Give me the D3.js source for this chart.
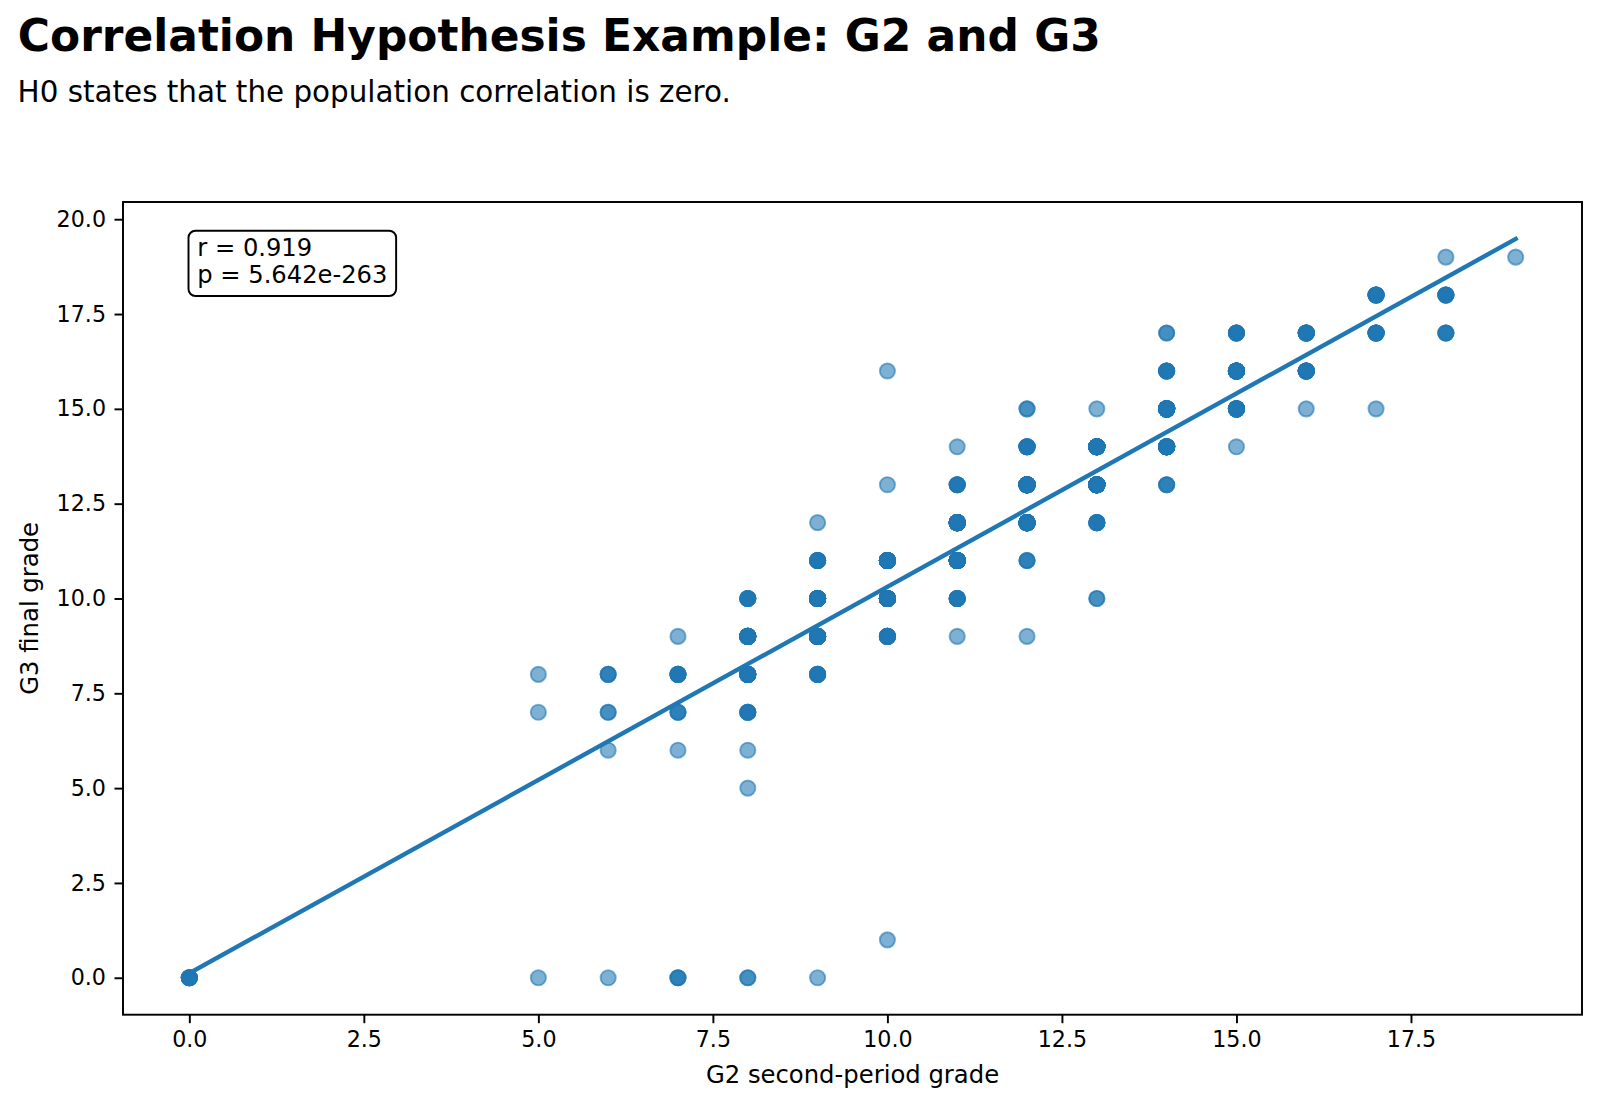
<!DOCTYPE html>
<html><head><meta charset="utf-8">
<script src="https://cdn.jsdelivr.net/npm/d3@7"></script>
<style>
body{margin:0;background:#fff}
svg{display:block}
text{font-family:"DejaVu Sans",sans-serif;fill:#000}
</style>
</head><body>
<svg id="chart" width="1600" height="1106"></svg>
<script>
// ---- data ----
const titleText = "Correlation Hypothesis Example: G2 and G3";
const subtitleText = "H0 states that the population correlation is zero.";
const xLabelText = "G2 second-period grade";
const yLabelText = "G3 final grade";
const statLines = ["r = 0.919", "p = 5.642e-263"];

// distinct (G2, G3) pairs and how many students share each pair
const g2Values = [0, 5,5,5, 6,6,6,6, 7,7,7,7,7, 8,8,8,8,8,8,8, 9,9,9,9,9,9,
  10,10,10,10,10,10, 11,11,11,11,11,11, 12,12,12,12,12,12, 13,13,13,13,13,
  14,14,14,14,14, 15,15,15,15, 16,16,16, 17,17,17, 18,18,18, 19];
const g3Values = [0, 0,7,8, 0,6,7,8, 0,6,7,8,9, 0,5,6,7,8,9,10, 0,8,9,10,11,12,
  1,9,10,11,13,16, 9,10,11,12,13,14, 9,11,12,13,14,15, 10,12,13,14,15,
  13,14,15,16,17, 14,15,16,17, 15,16,17, 15,17,18, 17,18,19, 19];
const pairCounts = [7, 1,1,1, 1,1,2,3, 3,1,3,6,1, 2,1,1,5,12,14,6, 1,6,20,25,8,1,
  1,8,40,30,1,1, 1,8,45,30,5,1, 1,3,30,35,8,2, 2,6,40,25,1,
  3,20,30,6,2, 1,15,25,6, 1,12,10, 1,8,8, 4,6,1, 1];

// fitted regression line end points
const lineG2 = [0, 19];
const lineG3 = [0.12, 19.48];

const xTicks = [0, 2.5, 5, 7.5, 10, 12.5, 15, 17.5];
const yTicks = [0, 2.5, 5, 7.5, 10, 12.5, 15, 17.5, 20];

// ---- build point records ----
const points = [];
g2Values.forEach((g2, i) => {
  for (let k = 0; k < pairCounts[i]; k++) points.push({g2, g3: g3Values[i]});
});

// ---- layout ----
const W = 1600, H = 1106;
const plot = {left: 123, right: 1582, top: 202, bottom: 1014.7};
const blue = "#1f77b4";
const svg = d3.select("#chart");

const x = d3.scaleLinear().domain([-0.95, 19.95]).range([plot.left, plot.right]);
const y = d3.scaleLinear().domain([-0.974, 20.454]).range([plot.bottom, plot.top]);

svg.append("rect").attr("width", W).attr("height", H).attr("fill", "#fff");

// title + subtitle
svg.append("text").attr("x", 17.8).attr("y", 51)
  .attr("font-size", 43.9).attr("font-weight", "bold").text(titleText);
svg.append("text").attr("x", 17.6).attr("y", 101.5)
  .attr("font-size", 29.4).text(subtitleText);

// clip for plot area
svg.append("clipPath").attr("id", "plotClip").append("rect")
  .attr("x", plot.left).attr("y", plot.top)
  .attr("width", plot.right - plot.left).attr("height", plot.bottom - plot.top);

const inner = svg.append("g").attr("clip-path", "url(#plotClip)");

// scatter points
inner.append("g").selectAll("circle").data(points).join("circle")
  .attr("cx", d => x(d.g2))
  .attr("cy", d => y(d.g3))
  .attr("r", 7.6)
  .attr("fill", blue).attr("fill-opacity", 0.58)
  .attr("stroke", blue).attr("stroke-opacity", 0.58).attr("stroke-width", 1.9);

// regression line
const lineData = lineG2.map((v, i) => [v, lineG3[i]]);
inner.append("path").datum(lineData)
  .attr("d", d3.line().x(d => x(d[0])).y(d => y(d[1])))
  .attr("fill", "none").attr("stroke", blue).attr("stroke-width", 4.4)
  .attr("stroke-linecap", "square");

// axes
const fmt = d3.format(".1f");
const xAxis = svg.append("g").attr("transform", `translate(0,${plot.bottom})`)
  .call(d3.axisBottom(x).tickValues(xTicks).tickFormat(fmt).tickSize(8.5).tickPadding(8.5));
const yAxis = svg.append("g").attr("transform", `translate(${plot.left},0)`)
  .call(d3.axisLeft(y).tickValues(yTicks).tickFormat(fmt).tickSize(8.5).tickPadding(8.5));
[xAxis, yAxis].forEach(a => {
  a.select(".domain").remove();
  a.selectAll(".tick line").attr("stroke", "#000").attr("stroke-width", 1.94);
  a.selectAll(".tick text").attr("font-size", 22.2).attr("fill", "#000")
    .attr("font-family", "DejaVu Sans, sans-serif");
});

// frame
svg.append("rect").attr("x", plot.left).attr("y", plot.top)
  .attr("width", plot.right - plot.left).attr("height", plot.bottom - plot.top)
  .attr("fill", "none").attr("stroke", "#000").attr("stroke-width", 1.94);

// axis labels
svg.append("text").attr("x", (plot.left + plot.right) / 2).attr("y", 1083)
  .attr("text-anchor", "middle").attr("font-size", 24.3).text(xLabelText);
svg.append("text").attr("transform", `translate(37.5,${(plot.top + plot.bottom) / 2}) rotate(-90)`)
  .attr("text-anchor", "middle").attr("font-size", 24.3).text(yLabelText);

// stats box
const statG = svg.append("g");
const statX = 197.3, statY0 = 255.5, statLH = 27.8;
const statTexts = statG.selectAll("text").data(statLines).join("text")
  .attr("x", statX).attr("y", (d, i) => statY0 + i * statLH)
  .attr("font-size", 24.2).text(d => d);
let maxW = 0;
statTexts.each(function() { maxW = Math.max(maxW, this.getComputedTextLength()); });
statG.insert("rect", "text")
  .attr("x", statX - 8.8).attr("y", statY0 - 24.8)
  .attr("width", maxW + 17.6).attr("height", 65.3)
  .attr("rx", 7).attr("ry", 7)
  .attr("fill", "#fff").attr("stroke", "#000").attr("stroke-width", 1.94);
</script>
</body></html>
